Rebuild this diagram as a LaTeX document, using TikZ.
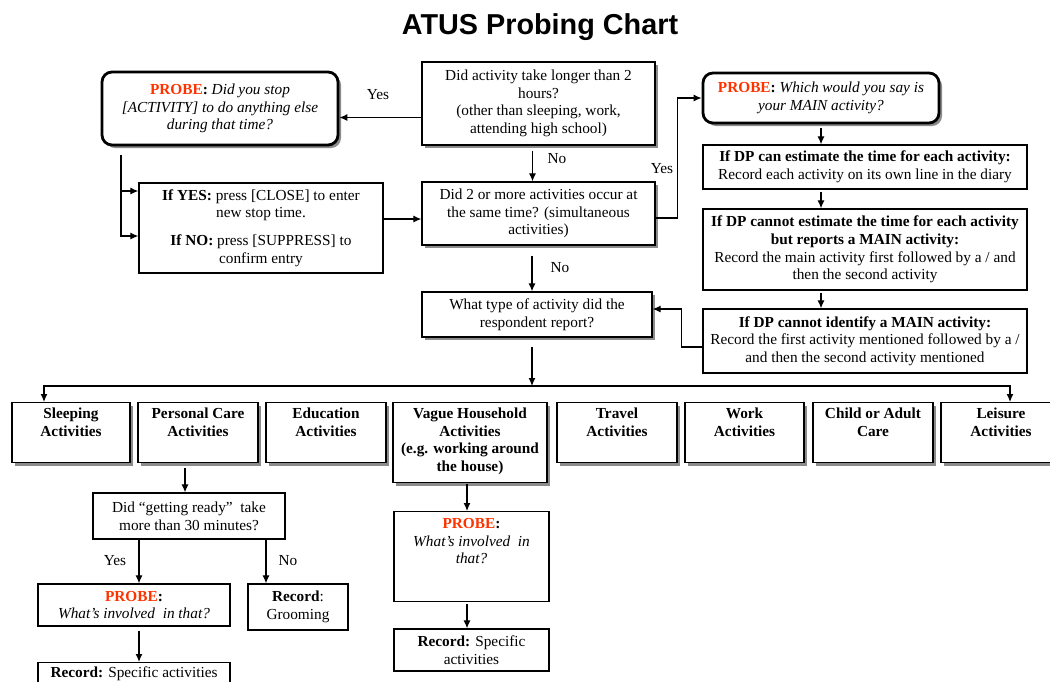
\documentclass[tikz,border=0pt]{standalone}
\usepackage{fontspec}
\setmainfont{Liberation Serif}
\newfontfamily\headfont{Liberation Sans}
\usepackage{xcolor}
\usepackage{tikz}
\usetikzlibrary{arrows.meta, shadows}

\newcommand{\bodysize}{\fontsize{15.3}{17.6}\selectfont}
\newcommand{\probeword}{\textbf{\textcolor{probered}{PROBE}:}}
% lines hung from the first baseline, so text sits at the top of a tall box
\newcommand{\toplines}[1]{\begin{tabular}[t]{@{}c@{}}#1\end{tabular}}

\begin{document}
\begin{tikzpicture}[x=1pt, y=-1pt, font=\bodysize, >={Latex[length=8pt, width=7pt]}, line width=1.2pt,
  box/.style={draw, fill=white, line width=1.3pt, align=center, inner sep=2pt},
  shade/.style={drop shadow={shadow xshift=3pt, shadow yshift=-3pt, fill=black!45, opacity=1}},
  probebox/.style={box, shade, line width=2.8pt, rounded corners=10pt},
  catbox/.style={box, shade, font=\bodysize\bfseries, anchor=north, minimum width=120, inner ysep=3pt, text height=13pt, text depth=41pt},
  toptext/.style={anchor=north, inner ysep=3pt, text height=#1}]
  \definecolor{probered}{HTML}{FF3300}

  \path[use as bounding box, fill=white] (0,0) rectangle (1050,681);
  \clip (0,0) rectangle (1050,681);

  \node[font=\headfont\bfseries\fontsize{28.8}{32}\selectfont] (title) at (540,27) {ATUS Probing Chart};

  % Define positions
  \node[box, shade, minimum width=233, minimum height=83] (q1) at (538.5,103.5)
    {Did activity take longer than 2\\hours?\\(other than sleeping, work,\\attending high school)};
  \node[probebox, minimum width=236, minimum height=73] (probe1) at (220,108.5)
    {\probeword{} \textit{Did you stop}\\\textit{[ACTIVITY] to do anything else}\\\textit{during that time?}};
  \node[box, shade, minimum width=233, minimum height=63] (q2) at (538.5,213.5)
    {Did 2 or more activities occur at\\the same time? (simultaneous\\activities)};
  \node[box, minimum width=244, minimum height=90] (ifyes) at (261,228)
    {\textbf{If YES:} press [CLOSE] to enter\\new stop time.\\[10pt]\textbf{If NO:} press [SUPPRESS] to\\confirm entry};
  \node[probebox, minimum width=236, minimum height=50] (probe2) at (821,98)
    {\probeword{} \textit{Which would you say is}\\\textit{your MAIN activity?}};
  \node[box, minimum width=324, minimum height=44] (dp1) at (865,167)
    {\textbf{If DP can estimate the time for each activity:}\\Record each activity on its own line in the diary};
  \node[box, minimum width=324, minimum height=81] (dp2) at (865,249.5)
    {\textbf{If DP cannot estimate the time for each activity}\\\textbf{but reports a MAIN activity:}\\Record the main activity first followed by a / and\\then the second activity};
  \node[box, minimum width=324, minimum height=64] (dp3) at (865,341)
    {\textbf{If DP cannot identify a MAIN activity:}\\Record the first activity mentioned followed by a /\\and then the second activity mentioned};
  \node[box, shade, minimum width=230, minimum height=45] (q3) at (537,314.5)
    {What type of activity did the\\respondent report?};

  % Activity types
  \node[catbox, minimum width=118] (sleep) at (71,402) {\toplines{Sleeping\\Activities}};
  \node[catbox] (pcare) at (198,402) {\toplines{Personal Care\\Activities}};
  \node[catbox] (educ) at (326,402) {\toplines{Education\\Activities}};
  \node[catbox, minimum width=154, text depth=61pt] (vague) at (470,402) {\toplines{Vague Household\\Activities\\(e.g. working around\\the house)}};
  \node[catbox] (travel) at (617,402) {\toplines{Travel\\Activities}};
  \node[catbox, minimum width=119] (work) at (744.5,402) {\toplines{Work\\Activities}};
  \node[catbox] (care) at (873,402) {\toplines{Child or Adult\\Care}};
  \node[catbox] (leisure) at (1001,402) {\toplines{Leisure\\Activities}};

  \node[box, minimum width=192, minimum height=46] (gready) at (189,516)
    {Did “getting ready” \ take\\more than 30 minutes?};
  \node[box, minimum width=192, minimum height=42] (probe3) at (134,605)
    {\probeword\\\textit{What's involved \ in that?}};
  \node[box, minimum width=100, minimum height=46] (groom) at (298,607)
    {\textbf{Record}:\\Grooming};
  \node[box, toptext=12pt, text depth=30pt, minimum width=192] (rec3) at (134,662)
    {\textbf{Record:} Specific activities};
  \node[box, toptext=14pt, text depth=70pt, minimum width=155] (probe4) at (471.5,511)
    {\toplines{\probeword\\\textit{What's involved \ in}\\\textit{that?}}};
  \node[box, minimum width=155, minimum height=42] (rec4) at (471.5,650)
    {\textbf{Record:} Specific\\activities};

  % Answers
  \node (yes1) at (378,95) {Yes};
  \node (no1) at (557,159) {No};
  \node (yes2) at (662,169) {Yes};
  \node (no2) at (560,268) {No};
  \node (yes3) at (115,561) {Yes};
  \node (no3) at (288,561) {No};

  % Arrows
  \coordinate (fork) at (121,155);
  \coordinate (bus) at (532,386);
  \draw[->] ([yshift=-14pt]q1.west) -- ([yshift=-14pt]q1.west -| probe1.east);
  \draw[->, shorten <=5pt] ([xshift=-6pt]q1.south) -- ([xshift=-6pt]q1.south |- q2.north);
  \draw[->] (fork) |- ([yshift=37pt]ifyes.west);
  \draw[->] (fork) |- ([yshift=-8pt]ifyes.west);
  \draw[->] ([yshift=9pt]ifyes.east) -- ([yshift=9pt]ifyes.east -| q2.west);
  \draw[->] ([yshift=-4.5pt]q2.east) -- ++(22,0) |- (probe2.west);
  \draw[->, shorten <=4pt] (probe2.south) -- (probe2.south |- dp1.north);
  \draw[->, shorten <=2pt] (dp1.south -| probe2.south) -- (dp2.north -| probe2.south);
  \draw[->, shorten <=2pt] (dp2.south -| probe2.south) -- (dp3.north -| probe2.south);
  \draw[->] ([yshift=-6pt]dp3.west) -- ++(-21,0) |- ([yshift=5.5pt]q3.east);
  \draw[->, shorten <=10pt] ([xshift=-6.5pt]q2.south) -- ([xshift=-6.5pt]q2.south |- q3.north);
  \draw[->, shorten <=9pt] ([xshift=-5pt]q3.south) -- (bus);
  \draw[->] (bus) -| ([xshift=-27pt]sleep.north);
  \draw[->] (bus) -| ([xshift=9pt]leisure.north);
  \draw[->, shorten <=5pt] ([xshift=-13pt]pcare.south) -- ([xshift=-13pt]pcare.south |- gready.north);
  \draw[->] ([xshift=5pt]probe3.north |- gready.south) -- ([xshift=5pt]probe3.north);
  \draw[->] ([xshift=-32pt]groom.north |- gready.south) -- ([xshift=-32pt]groom.north);
  \draw[->, shorten <=4pt] ([xshift=5pt]probe3.south) -- ([xshift=5pt]probe3.south |- rec3.north);
  \draw[->, shorten <=1pt] ([xshift=-3pt]vague.south) -- ([xshift=-3pt]vague.south |- probe4.north);
  \draw[->, shorten <=2pt] ([xshift=-4.5pt]probe4.south) -- ([xshift=-4.5pt]probe4.south |- rec4.north);
\end{tikzpicture}
\end{document}
